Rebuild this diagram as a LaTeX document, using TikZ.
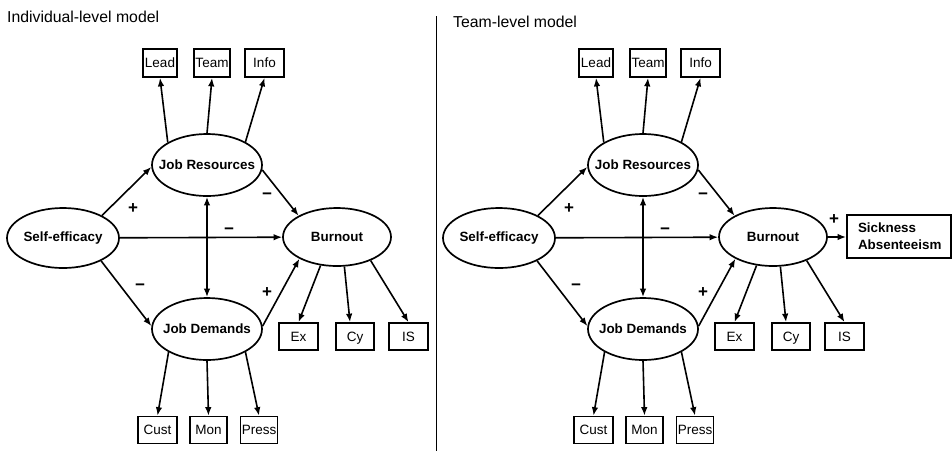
\documentclass[tikz,border=0pt]{standalone}
\usepackage{fontspec}
\setmainfont{Liberation Sans}
\usetikzlibrary{shapes.geometric,arrows.meta}
\newcommand{\mypanel}[2]{%
\begin{scope}[xshift=#2pt]
\node[lat,minimum width=112pt,minimum height=60pt] (SE#1) at (63,238) {Self-efficacy};
\node[lat] (JR#1) at (207,165) {Job Resources};
\node[lat] (JD#1) at (207,329) {Job Demands};
\node[lat,minimum width=108pt,minimum height=58pt] (BO#1) at (337,237) {Burnout};
\node[ind,minimum width=34pt] (Lead#1) at (160,63) {Lead};
\node[ind,minimum width=36pt] (Team#1) at (212,63) {Team};
\node[ind,minimum width=39pt] (Info#1) at (264.5,63) {Info};
\node[ind,minimum width=39pt,minimum height=27pt] (Ex#1) at (298.5,336.5) {Ex};
\node[ind,minimum width=38pt,minimum height=27pt] (Cy#1) at (355,336.5) {Cy};
\node[ind,minimum width=39pt,minimum height=27pt] (IS#1) at (408.5,336.5) {IS};
\node[ind,minimum width=39pt,minimum height=27pt] (Cust#1) at (157.5,430) {Cust};
\node[ind,minimum width=37pt,minimum height=27pt] (Mon#1) at (208.5,430) {Mon};
\node[ind,minimum width=37pt,minimum height=27pt] (Press#1) at (259,430) {Press};
\draw[arr] (SE#1.30) -- (JR#1.182);
\draw[arr] (SE#1) -- (BO#1);
\draw[arr] (SE#1.329) -- (JD#1.177);
\draw[darr] (JR#1) -- (JD#1);
\draw[arr] (JR#1.355) -- (BO#1.151);
\draw[arr] (JD#1.3) -- (BO#1.210);
\draw[arr] (JR#1.150) -- (Lead#1.south);
\draw[arr] (JR#1.north) -- (Team#1.south);
\draw[arr] (JR#1.31) -- (Info#1.south);
\draw[arr] (JD#1.211) -- (Cust#1.north);
\draw[arr] (JD#1.south) -- (Mon#1.north);
\draw[arr] (JD#1.329) -- (Press#1.north);
\draw[arr] (BO#1.240) -- (Ex#1.north);
\draw[arr] (BO#1.284) -- ([xshift=-5pt]Cy#1.north);
\draw[arr] (BO#1.325) -- (IS#1.north);
\node[sgn] (pa#1) at (133,209) {+};
\node[sgn] (pb#1) at (267,196) {−};
\node[sgn] (pc#1) at (229,231) {−};
\node[sgn] (pd#1) at (140,287) {−};
\node[sgn] (pe#1) at (267,293) {+};
\end{scope}}
\begin{document}
\begin{tikzpicture}[x=1pt,y=-1pt,
  lat/.style={ellipse,draw,line width=1.7pt,inner xsep=-12pt,inner ysep=0pt,minimum width=110pt,minimum height=62pt,font=\fontsize{13.4}{15}\selectfont\bfseries},
  ind/.style={rectangle,draw,line width=1.7pt,inner sep=0pt,minimum height=28pt,text height=9.7pt,text depth=0pt,font=\fontsize{13.5}{15}\selectfont},
  arr/.style={line width=1.6pt,-{Latex[length=8.5pt,width=6.5pt]}},
  darr/.style={line width=1.6pt,{Latex[length=8.5pt,width=6.5pt]}-{Latex[length=8.5pt,width=6.5pt]}},
  sgn/.style={font=\fontsize{17}{18}\selectfont\bfseries,inner sep=0pt},
  ttl/.style={font=\fontsize{15.8}{18}\selectfont,anchor=west,inner sep=0pt}]
\useasboundingbox (0,0) rectangle (952,451);
\node[ttl] (t1) at (7,17) {Individual-level model};
\node[ttl] (t2) at (453,22) {Team-level model};
\coordinate (dtop) at (436,16);
\coordinate (dbot) at (436,451);
\draw[line width=1pt] (dtop) -- (dbot);
\mypanel{a}{0}
\mypanel{b}{436}
\node[draw,line width=1.7pt,align=left,text width=82pt,inner xsep=11pt,inner ysep=0pt,minimum height=43pt,font=\fontsize{13.4}{17}\selectfont\bfseries] (SA) at (899,236.5) {Sickness\\Absenteeism};
\draw[arr] (BOb.east) -- (BOb.east -| SA.west);
\node[sgn] (pf) at (834,220) {+};
\end{tikzpicture}
\end{document}
